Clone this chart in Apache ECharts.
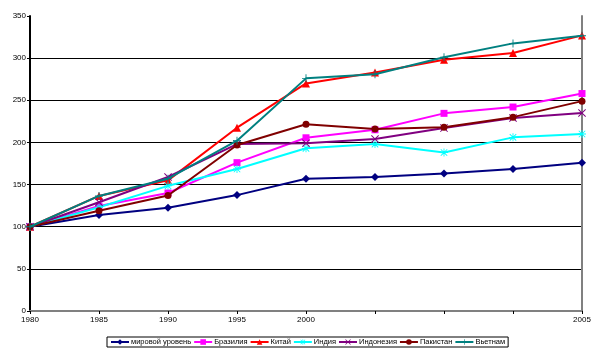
<!DOCTYPE html>
<html>
<head>
<meta charset="utf-8">
<script src="https://cdn.jsdelivr.net/npm/echarts@6/dist/echarts.min.js"></script>
<style>html,body{margin:0;padding:0;background:#fff}#c{width:600px;height:354px}</style>
</head>
<body>
<div id="c"></div>
<script>
const categories = ["1980", "1985", "1990", "1995", "2000", "", "", "", "2005"];
const seriesNames = ["мировой уровень", "Бразилия", "Китай", "Индия", "Индонезия", "Пакистан", "Вьетнам"];
const world     = [100, 114, 122.5, 137.5, 157, 159, 163, 168.5, 176];
const brazil    = [100, 124.5, 140, 176, 205.5, 215, 234.5, 242, 258];
const china     = [100, 136.5, 155, 217.5, 270, 283, 298, 306, 327];
const india     = [100, 123, 148.5, 168.5, 193, 198, 188, 206, 210];
const indonesia = [100, 129, 159, 198, 199, 204, 217, 229, 235];
const pakistan  = [100, 119, 137, 197, 221.5, 216, 218, 230, 249];
const vietnam   = [100, 136.5, 157, 202, 276, 281, 301, 317.5, 326.5];
const yTicks = [0, 50, 100, 150, 200, 250, 300, 350];

const plusPath = 'path://M4,0L5,0L5,4L9,4L9,5L5,5L5,9L4,9L4,5L0,5L0,4L4,4Z';
const xPath = 'path://M0.5,1.2L1.2,0.5L4.5,3.8L7.8,0.5L8.5,1.2L5.2,4.5L8.5,7.8L7.8,8.5L4.5,5.2L1.2,8.5L0.5,7.8L3.8,4.5Z';
const starPath = 'path://M4,0L5,0L5,4L9,4L9,5L5,5L5,9L4,9L4,5L0,5L0,4L4,4Z M0.5,1.2L1.2,0.5L4.5,3.8L7.8,0.5L8.5,1.2L5.2,4.5L8.5,7.8L7.8,8.5L4.5,5.2L1.2,8.5L0.5,7.8L3.8,4.5Z';

const values = [world, brazil, china, india, indonesia, pakistan, vietnam];
const colors = ['#000080', '#FF00FF', '#FF0000', '#00FFFF', '#800080', '#800000', '#008080'];
const symbols = ['diamond', 'rect', 'triangle', starPath, xPath, 'circle', plusPath];
const sizes = [8, 7, 8, 8, 8, 7, 8];

const font = 'Liberation Sans';
const chart = echarts.init(document.getElementById('c'), null, {renderer: 'canvas'});
chart.setOption({
  animation: false,
  backgroundColor: '#fff',
  textStyle: {fontFamily: font},
  grid: {left: 30, right: 18, top: 16, bottom: 43, show: false},
  legend: {
    left: 107, top: 337,
    width: 560,
    padding: [1, 3, 1, 3],
    borderColor: '#000', borderWidth: 1,
    itemWidth: 18, itemHeight: 7, itemGap: 2,
    textStyle: {fontFamily: font, fontSize: 7.5, color: '#000', padding: [0, 0, 0, -3]},
    data: seriesNames
  },
  xAxis: [{
    type: 'category',
    data: categories,
    boundaryGap: false,
    axisLine: {lineStyle: {color: '#000', width: 2}},
    axisTick: {show: true, length: 3, interval: 0, lineStyle: {color: '#000'}},
    axisLabel: {interval: 0, fontFamily: font, fontSize: 8, color: '#000', margin: 5},
    splitLine: {show: false}
  }, {
    type: 'category',
    data: categories,
    boundaryGap: false,
    position: 'top',
    axisLine: {show: true, lineStyle: {color: '#808080', width: 2}},
    axisTick: {show: false}, axisLabel: {show: false}, splitLine: {show: false}
  }],
  yAxis: [{
    type: 'value',
    min: yTicks[0], max: yTicks[yTicks.length - 1], interval: 50,
    axisLine: {show: true, lineStyle: {color: '#000', width: 2}},
    axisTick: {show: true, length: 3, lineStyle: {color: '#000'}},
    axisLabel: {fontFamily: font, fontSize: 8, color: '#000', margin: 4},
    splitLine: {show: true, lineStyle: {color: ['#000','#000','#000','#000','#000','#000','#000','rgba(0,0,0,0)'], width: 1}}
  }, {
    type: 'value', position: 'right',
    min: yTicks[0], max: yTicks[yTicks.length - 1], interval: 50,
    axisLine: {show: true, lineStyle: {color: '#808080', width: 2}},
    axisTick: {show: false}, axisLabel: {show: false}, splitLine: {show: false}
  }],
  series: seriesNames.map((name, i) => ({
    name: name,
    type: 'line',
    data: values[i],
    color: colors[i],
    symbol: symbols[i],
    symbolSize: sizes[i],
    showAllSymbol: true,
    lineStyle: {width: 2, color: colors[i]},
    itemStyle: {color: colors[i]},
    z: 3 + i
  }))
});
</script>
</body>
</html>
